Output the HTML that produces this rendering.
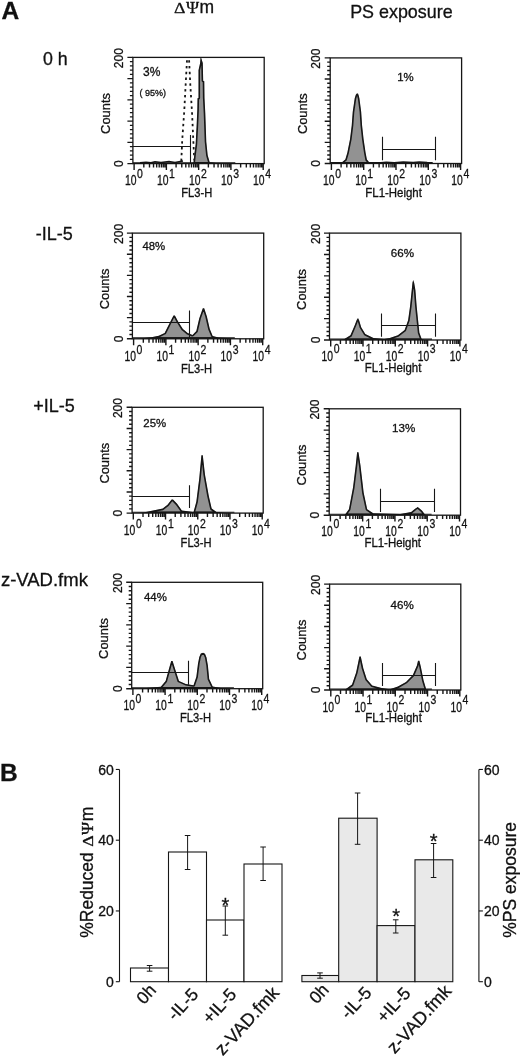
<!DOCTYPE html>
<html><head><meta charset="utf-8"><title>Figure</title>
<style>html,body{margin:0;padding:0;background:#fff}svg{display:block}text{font-family:"Liberation Sans",sans-serif;fill:#111}.ser{font-family:"Liberation Serif","DejaVu Serif",serif}text{stroke:#111;stroke-width:.3px}</style>
</head><body>
<svg width="520" height="1056" viewBox="0 0 520 1056">
<rect width="520" height="1056" fill="#fff"/>
<text x="1.5" y="19.4" font-size="24.5" font-weight="bold">A</text>
<text x="0.1" y="781.2" font-size="24.5" font-weight="bold">B</text>
<text class="ser" transform="translate(174.10 13.00) scale(1.16 1)" font-size="15.3">Δ</text><text class="ser" transform="translate(185.90 13.00) scale(1.03 1)" font-size="17.25">Ψ</text><text x="199.45" y="13.00" font-size="17.5">m</text>
<text x="350.2" y="18" font-size="17.9">PS exposure</text>
<text x="43" y="64.7" font-size="17.8">0 h</text>
<text x="35.8" y="240" font-size="18">-IL-5</text>
<text x="33.2" y="412" font-size="18">+IL-5</text>
<text x="0.9" y="586.2" font-size="18.5">z-VAD.fmk</text>
<g><polyline points="187.0,60.2 186.2,74.7 184.2,112.0 182.2,140.2 181.3,161.4" stroke="#161616" stroke-width="1.8" stroke-dasharray="2.4 3.4" fill="none"/>
<polyline points="189.1,60.2 190.3,84.8 192.0,112.0 193.3,140.2 194.3,160.4" stroke="#161616" stroke-width="1.8" stroke-dasharray="2.4 3.4" fill="none"/>
<clipPath id="c1"><polygon points="186.0,163.6 191.0,163.0 193.5,162.4 194.2,155.3 195.6,144.5 196.6,125.5 197.3,110.0 197.5,98.2 198.5,97.9 198.5,70.2 200.1,63.1 200.5,58.1 201.2,58.1 202.8,63.1 203.2,80.8 204.3,81.3 204.5,97.9 205.3,113.3 206.3,141.7 207.7,155.3 209.7,162.2 213.0,162.4 216.0,163.0 222.0,163.6"/></clipPath>
<polygon points="186.0,163.6 191.0,163.0 193.5,162.4 194.2,155.3 195.6,144.5 196.6,125.5 197.3,110.0 197.5,98.2 198.5,97.9 198.5,70.2 200.1,63.1 200.5,58.1 201.2,58.1 202.8,63.1 203.2,80.8 204.3,81.3 204.5,97.9 205.3,113.3 206.3,141.7 207.7,155.3 209.7,162.2 213.0,162.4 216.0,163.0 222.0,163.6" fill="#929292" stroke="#161616" stroke-width="3.2" stroke-linejoin="round" clip-path="url(#c1)"/>
<polyline points="140.0,162.8 146.0,162.2 151.0,162.8 155.0,161.8 161.0,162.6 169.0,161.4 175.0,162.4 183.0,160.9" stroke="#161616" stroke-width="1.5" fill="none"/>
<path d="M132.9 162.7H235.3" stroke="#161616" stroke-width="1.1" fill="none"/>
<rect x="132.9" y="57.4" width="131.3" height="106.2" fill="none" stroke="#161616" stroke-width="1.3"/>
<path d="M132.9 57.40h-5.5M132.9 61.65h-3.0M132.9 65.90h-3.0M132.9 70.14h-3.0M132.9 74.39h-3.0M132.9 78.64h-5.5M132.9 82.89h-3.0M132.9 87.14h-3.0M132.9 91.38h-3.0M132.9 95.63h-3.0M132.9 99.88h-5.5M132.9 104.13h-3.0M132.9 108.38h-3.0M132.9 112.62h-3.0M132.9 116.87h-3.0M132.9 121.12h-5.5M132.9 125.37h-3.0M132.9 129.62h-3.0M132.9 133.86h-3.0M132.9 138.11h-3.0M132.9 142.36h-5.5M132.9 146.61h-3.0M132.9 150.86h-3.0M132.9 155.10h-3.0M132.9 159.35h-3.0M132.9 163.60h-5.5M134.10 163.6v6.4M143.82 163.6v3.9M149.50 163.6v3.9M153.53 163.6v3.9M156.66 163.6v3.9M159.21 163.6v3.9M161.38 163.6v3.9M163.25 163.6v3.9M164.90 163.6v3.9M166.38 163.6v6.4M176.09 163.6v3.9M181.77 163.6v3.9M185.81 163.6v3.9M188.93 163.6v3.9M191.49 163.6v3.9M193.65 163.6v3.9M195.52 163.6v3.9M197.17 163.6v3.9M198.65 163.6v6.4M208.37 163.6v3.9M214.05 163.6v3.9M218.08 163.6v3.9M221.21 163.6v3.9M223.76 163.6v3.9M225.93 163.6v3.9M227.80 163.6v3.9M229.45 163.6v3.9M230.92 163.6v6.4M240.64 163.6v3.9M246.32 163.6v3.9M250.36 163.6v3.9M253.48 163.6v3.9M256.04 163.6v3.9M258.20 163.6v3.9M260.07 163.6v3.9M261.72 163.6v3.9M263.20 163.6v6.4" stroke="#161616" stroke-width="1.4" fill="none"/>
<path d="M132.9 146.5L190.5 146.5M190.5 135.0L190.5 163.6" stroke="#161616" stroke-width="1.1" fill="none"/>
<g class="sm">
<text transform="translate(123.1 58.2) rotate(-90)" font-size="12" text-anchor="middle">200</text>
<text transform="translate(123.1 163.6) rotate(-90)" font-size="12" text-anchor="middle">0</text>
<text transform="translate(109.5 113.5) rotate(-90)" font-size="12.9" text-anchor="middle">Counts</text>
<text transform="translate(130.7 185.4) scale(0.74 1)" font-size="14" text-anchor="middle">10</text>
<text transform="translate(137.1 177.9) scale(0.78 1)" font-size="13.4" text-anchor="start">0</text>
<text transform="translate(162.7 185.4) scale(0.74 1)" font-size="14" text-anchor="middle">10</text>
<text transform="translate(169.1 177.9) scale(0.78 1)" font-size="13.4" text-anchor="start">1</text>
<text transform="translate(194.8 185.4) scale(0.74 1)" font-size="14" text-anchor="middle">10</text>
<text transform="translate(201.1 177.9) scale(0.78 1)" font-size="13.4" text-anchor="start">2</text>
<text transform="translate(226.8 185.4) scale(0.74 1)" font-size="14" text-anchor="middle">10</text>
<text transform="translate(233.2 177.9) scale(0.78 1)" font-size="13.4" text-anchor="start">3</text>
<text transform="translate(258.8 185.4) scale(0.74 1)" font-size="14" text-anchor="middle">10</text>
<text transform="translate(265.2 177.9) scale(0.78 1)" font-size="13.4" text-anchor="start">4</text>
<text transform="translate(181.3 197.2) scale(0.930 1)" font-size="12">FL3-H</text>
<text x="143.0" y="75.6" font-size="12">3%</text>
<text x="139.5" y="96.2" font-size="9">( 95%)</text>
</g></g>
<g><clipPath id="c2"><polygon points="136.0,338.8 141.5,338.3 151.2,337.3 158.8,335.8 164.6,332.9 168.5,325.3 173.5,315.4 174.9,315.4 178.1,321.4 182.9,329.1 187.7,333.0 192.5,334.9 196.3,331.1 199.2,318.6 202.8,308.2 204.2,308.2 206.9,316.6 209.8,329.1 212.7,335.9 218.5,337.4 232.0,338.2 240.0,338.8"/></clipPath>
<polygon points="136.0,338.8 141.5,338.3 151.2,337.3 158.8,335.8 164.6,332.9 168.5,325.3 173.5,315.4 174.9,315.4 178.1,321.4 182.9,329.1 187.7,333.0 192.5,334.9 196.3,331.1 199.2,318.6 202.8,308.2 204.2,308.2 206.9,316.6 209.8,329.1 212.7,335.9 218.5,337.4 232.0,338.2 240.0,338.8" fill="#929292" stroke="#161616" stroke-width="3.2" stroke-linejoin="round" clip-path="url(#c2)"/>
<path d="M132.4 337.9H234.8" stroke="#161616" stroke-width="1.1" fill="none"/>
<rect x="132.4" y="233.1" width="131.3" height="105.7" fill="none" stroke="#161616" stroke-width="1.3"/>
<path d="M132.4 233.10h-5.5M132.4 237.33h-3.0M132.4 241.56h-3.0M132.4 245.78h-3.0M132.4 250.01h-3.0M132.4 254.24h-5.5M132.4 258.47h-3.0M132.4 262.70h-3.0M132.4 266.92h-3.0M132.4 271.15h-3.0M132.4 275.38h-5.5M132.4 279.61h-3.0M132.4 283.84h-3.0M132.4 288.06h-3.0M132.4 292.29h-3.0M132.4 296.52h-5.5M132.4 300.75h-3.0M132.4 304.98h-3.0M132.4 309.20h-3.0M132.4 313.43h-3.0M132.4 317.66h-5.5M132.4 321.89h-3.0M132.4 326.12h-3.0M132.4 330.34h-3.0M132.4 334.57h-3.0M132.4 338.80h-5.5M133.60 338.8v6.4M143.32 338.8v3.9M149.00 338.8v3.9M153.03 338.8v3.9M156.16 338.8v3.9M158.71 338.8v3.9M160.88 338.8v3.9M162.75 338.8v3.9M164.40 338.8v3.9M165.88 338.8v6.4M175.59 338.8v3.9M181.27 338.8v3.9M185.31 338.8v3.9M188.43 338.8v3.9M190.99 338.8v3.9M193.15 338.8v3.9M195.02 338.8v3.9M196.67 338.8v3.9M198.15 338.8v6.4M207.87 338.8v3.9M213.55 338.8v3.9M217.58 338.8v3.9M220.71 338.8v3.9M223.26 338.8v3.9M225.43 338.8v3.9M227.30 338.8v3.9M228.95 338.8v3.9M230.42 338.8v6.4M240.14 338.8v3.9M245.82 338.8v3.9M249.86 338.8v3.9M252.98 338.8v3.9M255.54 338.8v3.9M257.70 338.8v3.9M259.57 338.8v3.9M261.22 338.8v3.9M262.70 338.8v6.4" stroke="#161616" stroke-width="1.4" fill="none"/>
<path d="M132.4 322.5L189.6 322.5M189.5 310.6L189.5 338.8" stroke="#161616" stroke-width="1.1" fill="none"/>
<g class="sm">
<text transform="translate(122.6 233.9) rotate(-90)" font-size="12" text-anchor="middle">200</text>
<text transform="translate(122.6 338.8) rotate(-90)" font-size="12" text-anchor="middle">0</text>
<text transform="translate(109.0 288.9) rotate(-90)" font-size="12.9" text-anchor="middle">Counts</text>
<text transform="translate(130.2 361.2) scale(0.74 1)" font-size="14" text-anchor="middle">10</text>
<text transform="translate(136.6 353.7) scale(0.78 1)" font-size="13.4" text-anchor="start">0</text>
<text transform="translate(162.2 361.2) scale(0.74 1)" font-size="14" text-anchor="middle">10</text>
<text transform="translate(168.6 353.7) scale(0.78 1)" font-size="13.4" text-anchor="start">1</text>
<text transform="translate(194.2 361.2) scale(0.74 1)" font-size="14" text-anchor="middle">10</text>
<text transform="translate(200.6 353.7) scale(0.78 1)" font-size="13.4" text-anchor="start">2</text>
<text transform="translate(226.3 361.2) scale(0.74 1)" font-size="14" text-anchor="middle">10</text>
<text transform="translate(232.7 353.7) scale(0.78 1)" font-size="13.4" text-anchor="start">3</text>
<text transform="translate(258.3 361.2) scale(0.74 1)" font-size="14" text-anchor="middle">10</text>
<text transform="translate(264.7 353.7) scale(0.78 1)" font-size="13.4" text-anchor="start">4</text>
<text transform="translate(181.0 373.2) scale(0.930 1)" font-size="12">FL3-H</text>
<text x="142.4" y="250.2" font-size="11.4">48%</text>
</g></g>
<g><clipPath id="c3"><polygon points="136.0,513.1 143.5,512.4 153.0,510.5 162.7,508.6 167.5,504.7 171.6,499.6 173.0,499.6 177.1,503.8 181.9,510.5 193.5,512.1 196.3,501.8 199.2,478.7 201.4,455.2 202.8,455.2 205.0,474.8 208.8,496.1 211.7,508.6 216.5,512.0 226.0,513.1"/></clipPath>
<polygon points="136.0,513.1 143.5,512.4 153.0,510.5 162.7,508.6 167.5,504.7 171.6,499.6 173.0,499.6 177.1,503.8 181.9,510.5 193.5,512.1 196.3,501.8 199.2,478.7 201.4,455.2 202.8,455.2 205.0,474.8 208.8,496.1 211.7,508.6 216.5,512.0 226.0,513.1" fill="#929292" stroke="#161616" stroke-width="3.2" stroke-linejoin="round" clip-path="url(#c3)"/>
<path d="M132.1 512.2H234.4" stroke="#161616" stroke-width="1.1" fill="none"/>
<rect x="132.1" y="407.3" width="131.1" height="105.8" fill="none" stroke="#161616" stroke-width="1.3"/>
<path d="M132.1 407.30h-5.5M132.1 411.53h-3.0M132.1 415.76h-3.0M132.1 420.00h-3.0M132.1 424.23h-3.0M132.1 428.46h-5.5M132.1 432.69h-3.0M132.1 436.92h-3.0M132.1 441.16h-3.0M132.1 445.39h-3.0M132.1 449.62h-5.5M132.1 453.85h-3.0M132.1 458.08h-3.0M132.1 462.32h-3.0M132.1 466.55h-3.0M132.1 470.78h-5.5M132.1 475.01h-3.0M132.1 479.24h-3.0M132.1 483.48h-3.0M132.1 487.71h-3.0M132.1 491.94h-5.5M132.1 496.17h-3.0M132.1 500.40h-3.0M132.1 504.64h-3.0M132.1 508.87h-3.0M132.1 513.10h-5.5M133.30 513.1v6.4M143.00 513.1v3.9M148.68 513.1v3.9M152.70 513.1v3.9M155.82 513.1v3.9M158.38 513.1v3.9M160.53 513.1v3.9M162.40 513.1v3.9M164.05 513.1v3.9M165.52 513.1v6.4M175.23 513.1v3.9M180.90 513.1v3.9M184.93 513.1v3.9M188.05 513.1v3.9M190.60 513.1v3.9M192.76 513.1v3.9M194.63 513.1v3.9M196.28 513.1v3.9M197.75 513.1v6.4M207.45 513.1v3.9M213.13 513.1v3.9M217.15 513.1v3.9M220.27 513.1v3.9M222.83 513.1v3.9M224.98 513.1v3.9M226.85 513.1v3.9M228.50 513.1v3.9M229.97 513.1v6.4M239.68 513.1v3.9M245.35 513.1v3.9M249.38 513.1v3.9M252.50 513.1v3.9M255.05 513.1v3.9M257.21 513.1v3.9M259.08 513.1v3.9M260.73 513.1v3.9M262.20 513.1v6.4" stroke="#161616" stroke-width="1.4" fill="none"/>
<path d="M132.1 496.5L189.2 496.5M189.5 485.2L189.5 508.1" stroke="#161616" stroke-width="1.1" fill="none"/>
<g class="sm">
<text transform="translate(122.3 408.1) rotate(-90)" font-size="12" text-anchor="middle">200</text>
<text transform="translate(122.3 513.1) rotate(-90)" font-size="12" text-anchor="middle">0</text>
<text transform="translate(108.7 463.2) rotate(-90)" font-size="12.9" text-anchor="middle">Counts</text>
<text transform="translate(129.6 535.0) scale(0.74 1)" font-size="14" text-anchor="middle">10</text>
<text transform="translate(136.0 527.5) scale(0.78 1)" font-size="13.4" text-anchor="start">0</text>
<text transform="translate(161.6 535.0) scale(0.74 1)" font-size="14" text-anchor="middle">10</text>
<text transform="translate(168.0 527.5) scale(0.78 1)" font-size="13.4" text-anchor="start">1</text>
<text transform="translate(193.6 535.0) scale(0.74 1)" font-size="14" text-anchor="middle">10</text>
<text transform="translate(199.9 527.5) scale(0.78 1)" font-size="13.4" text-anchor="start">2</text>
<text transform="translate(225.5 535.0) scale(0.74 1)" font-size="14" text-anchor="middle">10</text>
<text transform="translate(231.9 527.5) scale(0.78 1)" font-size="13.4" text-anchor="start">3</text>
<text transform="translate(257.5 535.0) scale(0.74 1)" font-size="14" text-anchor="middle">10</text>
<text transform="translate(263.9 527.5) scale(0.78 1)" font-size="13.4" text-anchor="start">4</text>
<text transform="translate(180.6 547.2) scale(0.930 1)" font-size="12">FL3-H</text>
<text x="143.3" y="427.1" font-size="11.4">25%</text>
</g></g>
<g><clipPath id="c4"><polygon points="138.0,688.7 143.5,688.3 160.8,686.8 165.6,680.9 169.4,667.3 171.2,660.9 172.6,660.9 175.2,669.2 179.0,680.9 185.8,683.9 193.5,685.2 196.3,677.0 198.0,663.5 199.3,656.9 200.8,653.6 203.1,652.8 205.0,653.8 206.5,657.4 207.9,665.5 209.2,679.0 212.7,686.4 222.3,688.3 228.0,688.7"/></clipPath>
<polygon points="138.0,688.7 143.5,688.3 160.8,686.8 165.6,680.9 169.4,667.3 171.2,660.9 172.6,660.9 175.2,669.2 179.0,680.9 185.8,683.9 193.5,685.2 196.3,677.0 198.0,663.5 199.3,656.9 200.8,653.6 203.1,652.8 205.0,653.8 206.5,657.4 207.9,665.5 209.2,679.0 212.7,686.4 222.3,688.3 228.0,688.7" fill="#929292" stroke="#161616" stroke-width="3.2" stroke-linejoin="round" clip-path="url(#c4)"/>
<path d="M131.7 687.8H233.9" stroke="#161616" stroke-width="1.1" fill="none"/>
<rect x="131.7" y="582.3" width="131.0" height="106.4" fill="none" stroke="#161616" stroke-width="1.3"/>
<path d="M131.7 582.30h-5.5M131.7 586.56h-3.0M131.7 590.81h-3.0M131.7 595.07h-3.0M131.7 599.32h-3.0M131.7 603.58h-5.5M131.7 607.84h-3.0M131.7 612.09h-3.0M131.7 616.35h-3.0M131.7 620.60h-3.0M131.7 624.86h-5.5M131.7 629.12h-3.0M131.7 633.37h-3.0M131.7 637.63h-3.0M131.7 641.88h-3.0M131.7 646.14h-5.5M131.7 650.40h-3.0M131.7 654.65h-3.0M131.7 658.91h-3.0M131.7 663.16h-3.0M131.7 667.42h-5.5M131.7 671.68h-3.0M131.7 675.93h-3.0M131.7 680.19h-3.0M131.7 684.44h-3.0M131.7 688.70h-5.5M132.90 688.7v6.4M142.59 688.7v3.9M148.26 688.7v3.9M152.29 688.7v3.9M155.41 688.7v3.9M157.96 688.7v3.9M160.11 688.7v3.9M161.98 688.7v3.9M163.63 688.7v3.9M165.10 688.7v6.4M174.79 688.7v3.9M180.46 688.7v3.9M184.49 688.7v3.9M187.61 688.7v3.9M190.16 688.7v3.9M192.31 688.7v3.9M194.18 688.7v3.9M195.83 688.7v3.9M197.30 688.7v6.4M206.99 688.7v3.9M212.66 688.7v3.9M216.69 688.7v3.9M219.81 688.7v3.9M222.36 688.7v3.9M224.51 688.7v3.9M226.38 688.7v3.9M228.03 688.7v3.9M229.50 688.7v6.4M239.19 688.7v3.9M244.86 688.7v3.9M248.89 688.7v3.9M252.01 688.7v3.9M254.56 688.7v3.9M256.71 688.7v3.9M258.58 688.7v3.9M260.23 688.7v3.9M261.70 688.7v6.4" stroke="#161616" stroke-width="1.4" fill="none"/>
<path d="M131.7 672.5L188.7 672.5M188.5 660.7L188.5 684.7" stroke="#161616" stroke-width="1.1" fill="none"/>
<g class="sm">
<text transform="translate(121.9 583.1) rotate(-90)" font-size="12" text-anchor="middle">200</text>
<text transform="translate(121.9 688.7) rotate(-90)" font-size="12" text-anchor="middle">0</text>
<text transform="translate(108.3 638.5) rotate(-90)" font-size="12.9" text-anchor="middle">Counts</text>
<text transform="translate(129.2 710.0) scale(0.74 1)" font-size="14" text-anchor="middle">10</text>
<text transform="translate(135.6 702.5) scale(0.78 1)" font-size="13.4" text-anchor="start">0</text>
<text transform="translate(161.1 710.0) scale(0.74 1)" font-size="14" text-anchor="middle">10</text>
<text transform="translate(167.5 702.5) scale(0.78 1)" font-size="13.4" text-anchor="start">1</text>
<text transform="translate(193.1 710.0) scale(0.74 1)" font-size="14" text-anchor="middle">10</text>
<text transform="translate(199.5 702.5) scale(0.78 1)" font-size="13.4" text-anchor="start">2</text>
<text transform="translate(225.1 710.0) scale(0.74 1)" font-size="14" text-anchor="middle">10</text>
<text transform="translate(231.4 702.5) scale(0.78 1)" font-size="13.4" text-anchor="start">3</text>
<text transform="translate(257.0 710.0) scale(0.74 1)" font-size="14" text-anchor="middle">10</text>
<text transform="translate(263.4 702.5) scale(0.78 1)" font-size="13.4" text-anchor="start">4</text>
<text transform="translate(180.0 722.2) scale(0.930 1)" font-size="12">FL3-H</text>
<text x="144.0" y="601.1" font-size="11.4">44%</text>
</g></g>
<g><clipPath id="c5"><polygon points="334.1,163.5 337.4,163.0 341.3,162.7 345.3,159.6 347.3,152.8 350.0,139.2 351.7,125.6 352.7,111.9 354.7,98.3 355.8,94.8 356.8,93.4 358.0,93.4 358.7,95.5 359.4,98.3 361.2,111.9 362.1,125.6 363.6,139.2 365.6,152.8 366.9,159.6 369.6,162.7 373.2,163.1 378.2,163.5"/></clipPath>
<polygon points="334.1,163.5 337.4,163.0 341.3,162.7 345.3,159.6 347.3,152.8 350.0,139.2 351.7,125.6 352.7,111.9 354.7,98.3 355.8,94.8 356.8,93.4 358.0,93.4 358.7,95.5 359.4,98.3 361.2,111.9 362.1,125.6 363.6,139.2 365.6,152.8 366.9,159.6 369.6,162.7 373.2,163.1 378.2,163.5" fill="#929292" stroke="#161616" stroke-width="3.2" stroke-linejoin="round" clip-path="url(#c5)"/>
<polyline points="378.2,162.9 386.2,162.3 394.2,162.8 403.2,162.0 413.2,162.6 419.2,162.0 427.2,162.6" stroke="#161616" stroke-width="1.5" fill="none"/>
<path d="M330.2 162.6H432.7" stroke="#161616" stroke-width="1.1" fill="none"/>
<rect x="330.2" y="57.9" width="131.4" height="105.6" fill="none" stroke="#161616" stroke-width="1.3"/>
<path d="M330.2 57.90h-5.5M330.2 62.12h-3.0M330.2 66.35h-3.0M330.2 70.57h-3.0M330.2 74.80h-3.0M330.2 79.02h-5.5M330.2 83.24h-3.0M330.2 87.47h-3.0M330.2 91.69h-3.0M330.2 95.92h-3.0M330.2 100.14h-5.5M330.2 104.36h-3.0M330.2 108.59h-3.0M330.2 112.81h-3.0M330.2 117.04h-3.0M330.2 121.26h-5.5M330.2 125.48h-3.0M330.2 129.71h-3.0M330.2 133.93h-3.0M330.2 138.16h-3.0M330.2 142.38h-5.5M330.2 146.60h-3.0M330.2 150.83h-3.0M330.2 155.05h-3.0M330.2 159.28h-3.0M330.2 163.50h-5.5M331.40 163.5v6.4M341.12 163.5v3.9M346.81 163.5v3.9M350.85 163.5v3.9M353.98 163.5v3.9M356.53 163.5v3.9M358.70 163.5v3.9M360.57 163.5v3.9M362.22 163.5v3.9M363.70 163.5v6.4M373.42 163.5v3.9M379.11 163.5v3.9M383.15 163.5v3.9M386.28 163.5v3.9M388.83 163.5v3.9M391.00 163.5v3.9M392.87 163.5v3.9M394.52 163.5v3.9M396.00 163.5v6.4M405.72 163.5v3.9M411.41 163.5v3.9M415.45 163.5v3.9M418.58 163.5v3.9M421.13 163.5v3.9M423.30 163.5v3.9M425.17 163.5v3.9M426.82 163.5v3.9M428.30 163.5v6.4M438.02 163.5v3.9M443.71 163.5v3.9M447.75 163.5v3.9M450.88 163.5v3.9M453.43 163.5v3.9M455.60 163.5v3.9M457.47 163.5v3.9M459.12 163.5v3.9M460.60 163.5v6.4" stroke="#161616" stroke-width="1.4" fill="none"/>
<path d="M382.2 149.5L435.7 149.5M382.5 136.8L382.5 160.3M435.5 136.8L435.5 160.3" stroke="#161616" stroke-width="1.1" fill="none"/>
<g class="sm">
<text transform="translate(320.4 58.7) rotate(-90)" font-size="12" text-anchor="middle">200</text>
<text transform="translate(320.4 163.5) rotate(-90)" font-size="12" text-anchor="middle">0</text>
<text transform="translate(306.8 113.7) rotate(-90)" font-size="12.9" text-anchor="middle">Counts</text>
<text transform="translate(328.8 185.4) scale(0.74 1)" font-size="14" text-anchor="middle">10</text>
<text transform="translate(335.2 177.9) scale(0.78 1)" font-size="13.4" text-anchor="start">0</text>
<text transform="translate(360.9 185.4) scale(0.74 1)" font-size="14" text-anchor="middle">10</text>
<text transform="translate(367.2 177.9) scale(0.78 1)" font-size="13.4" text-anchor="start">1</text>
<text transform="translate(392.9 185.4) scale(0.74 1)" font-size="14" text-anchor="middle">10</text>
<text transform="translate(399.3 177.9) scale(0.78 1)" font-size="13.4" text-anchor="start">2</text>
<text transform="translate(425.0 185.4) scale(0.74 1)" font-size="14" text-anchor="middle">10</text>
<text transform="translate(431.4 177.9) scale(0.78 1)" font-size="13.4" text-anchor="start">3</text>
<text transform="translate(457.0 185.4) scale(0.74 1)" font-size="14" text-anchor="middle">10</text>
<text transform="translate(463.4 177.9) scale(0.78 1)" font-size="13.4" text-anchor="start">4</text>
<text transform="translate(365.3 197.2) scale(0.955 1)" font-size="12">FL1-Height</text>
<text x="397.2" y="81.2" font-size="11.4">1%</text>
</g></g>
<g><clipPath id="c6"><polygon points="339.8,340.0 343.6,339.5 350.4,335.3 354.5,325.7 356.7,320.0 358.0,318.1 359.2,320.6 361.2,327.2 365.3,334.0 373.5,338.1 384.2,338.9 389.7,338.1 397.8,335.3 404.6,329.9 408.1,320.2 410.0,306.6 411.4,292.9 412.5,282.4 413.2,280.0 414.2,282.9 415.4,290.1 416.7,306.6 418.1,320.2 419.4,332.7 421.7,338.9 424.3,340.0"/></clipPath>
<polygon points="339.8,340.0 343.6,339.5 350.4,335.3 354.5,325.7 356.7,320.0 358.0,318.1 359.2,320.6 361.2,327.2 365.3,334.0 373.5,338.1 384.2,338.9 389.7,338.1 397.8,335.3 404.6,329.9 408.1,320.2 410.0,306.6 411.4,292.9 412.5,282.4 413.2,280.0 414.2,282.9 415.4,290.1 416.7,306.6 418.1,320.2 419.4,332.7 421.7,338.9 424.3,340.0" fill="#929292" stroke="#161616" stroke-width="3.2" stroke-linejoin="round" clip-path="url(#c6)"/>
<path d="M329.5 339.1H432.0" stroke="#161616" stroke-width="1.1" fill="none"/>
<rect x="329.5" y="233.1" width="131.4" height="106.9" fill="none" stroke="#161616" stroke-width="1.3"/>
<path d="M329.5 233.10h-5.5M329.5 237.38h-3.0M329.5 241.65h-3.0M329.5 245.93h-3.0M329.5 250.20h-3.0M329.5 254.48h-5.5M329.5 258.76h-3.0M329.5 263.03h-3.0M329.5 267.31h-3.0M329.5 271.58h-3.0M329.5 275.86h-5.5M329.5 280.14h-3.0M329.5 284.41h-3.0M329.5 288.69h-3.0M329.5 292.96h-3.0M329.5 297.24h-5.5M329.5 301.52h-3.0M329.5 305.79h-3.0M329.5 310.07h-3.0M329.5 314.34h-3.0M329.5 318.62h-5.5M329.5 322.90h-3.0M329.5 327.17h-3.0M329.5 331.45h-3.0M329.5 335.72h-3.0M329.5 340.00h-5.5M330.70 340.0v6.4M340.42 340.0v3.9M346.11 340.0v3.9M350.15 340.0v3.9M353.28 340.0v3.9M355.83 340.0v3.9M358.00 340.0v3.9M359.87 340.0v3.9M361.52 340.0v3.9M363.00 340.0v6.4M372.72 340.0v3.9M378.41 340.0v3.9M382.45 340.0v3.9M385.58 340.0v3.9M388.13 340.0v3.9M390.30 340.0v3.9M392.17 340.0v3.9M393.82 340.0v3.9M395.30 340.0v6.4M405.02 340.0v3.9M410.71 340.0v3.9M414.75 340.0v3.9M417.88 340.0v3.9M420.43 340.0v3.9M422.60 340.0v3.9M424.47 340.0v3.9M426.12 340.0v3.9M427.60 340.0v6.4M437.32 340.0v3.9M443.01 340.0v3.9M447.05 340.0v3.9M450.18 340.0v3.9M452.73 340.0v3.9M454.90 340.0v3.9M456.77 340.0v3.9M458.42 340.0v3.9M459.90 340.0v6.4" stroke="#161616" stroke-width="1.4" fill="none"/>
<path d="M381.5 325.5L435.2 325.5M381.5 313.4L381.5 336.7M435.5 313.4L435.5 336.7" stroke="#161616" stroke-width="1.1" fill="none"/>
<g class="sm">
<text transform="translate(319.7 233.9) rotate(-90)" font-size="12" text-anchor="middle">200</text>
<text transform="translate(319.7 340.0) rotate(-90)" font-size="12" text-anchor="middle">0</text>
<text transform="translate(306.1 289.5) rotate(-90)" font-size="12.9" text-anchor="middle">Counts</text>
<text transform="translate(327.3 360.9) scale(0.74 1)" font-size="14" text-anchor="middle">10</text>
<text transform="translate(333.7 353.4) scale(0.78 1)" font-size="13.4" text-anchor="start">0</text>
<text transform="translate(359.4 360.9) scale(0.74 1)" font-size="14" text-anchor="middle">10</text>
<text transform="translate(365.8 353.4) scale(0.78 1)" font-size="13.4" text-anchor="start">1</text>
<text transform="translate(391.4 360.9) scale(0.74 1)" font-size="14" text-anchor="middle">10</text>
<text transform="translate(397.8 353.4) scale(0.78 1)" font-size="13.4" text-anchor="start">2</text>
<text transform="translate(423.4 360.9) scale(0.74 1)" font-size="14" text-anchor="middle">10</text>
<text transform="translate(429.8 353.4) scale(0.78 1)" font-size="13.4" text-anchor="start">3</text>
<text transform="translate(455.5 360.9) scale(0.74 1)" font-size="14" text-anchor="middle">10</text>
<text transform="translate(461.9 353.4) scale(0.78 1)" font-size="13.4" text-anchor="start">4</text>
<text transform="translate(364.8 372.2) scale(0.955 1)" font-size="12">FL1-Height</text>
<text x="390.8" y="256.8" font-size="11.6">66%</text>
</g></g>
<g><clipPath id="c7"><polygon points="340.6,515.2 344.9,514.7 348.9,509.2 353.0,487.4 355.7,465.5 357.1,452.2 358.5,452.2 360.5,465.5 363.7,492.8 367.2,509.2 373.3,513.3 400.3,514.1 411.1,512.0 415.1,508.7 417.8,507.0 421.9,510.5 425.2,514.7 428.0,515.2"/></clipPath>
<polygon points="340.6,515.2 344.9,514.7 348.9,509.2 353.0,487.4 355.7,465.5 357.1,452.2 358.5,452.2 360.5,465.5 363.7,492.8 367.2,509.2 373.3,513.3 400.3,514.1 411.1,512.0 415.1,508.7 417.8,507.0 421.9,510.5 425.2,514.7 428.0,515.2" fill="#929292" stroke="#161616" stroke-width="3.2" stroke-linejoin="round" clip-path="url(#c7)"/>
<path d="M329.2 514.3H431.6" stroke="#161616" stroke-width="1.1" fill="none"/>
<rect x="329.2" y="408.8" width="131.3" height="106.4" fill="none" stroke="#161616" stroke-width="1.3"/>
<path d="M329.2 408.80h-5.5M329.2 413.06h-3.0M329.2 417.31h-3.0M329.2 421.57h-3.0M329.2 425.82h-3.0M329.2 430.08h-5.5M329.2 434.34h-3.0M329.2 438.59h-3.0M329.2 442.85h-3.0M329.2 447.10h-3.0M329.2 451.36h-5.5M329.2 455.62h-3.0M329.2 459.87h-3.0M329.2 464.13h-3.0M329.2 468.38h-3.0M329.2 472.64h-5.5M329.2 476.90h-3.0M329.2 481.15h-3.0M329.2 485.41h-3.0M329.2 489.66h-3.0M329.2 493.92h-5.5M329.2 498.18h-3.0M329.2 502.43h-3.0M329.2 506.69h-3.0M329.2 510.94h-3.0M329.2 515.20h-5.5M330.40 515.2v6.4M340.12 515.2v3.9M345.80 515.2v3.9M349.83 515.2v3.9M352.96 515.2v3.9M355.51 515.2v3.9M357.68 515.2v3.9M359.55 515.2v3.9M361.20 515.2v3.9M362.67 515.2v6.4M372.39 515.2v3.9M378.07 515.2v3.9M382.11 515.2v3.9M385.23 515.2v3.9M387.79 515.2v3.9M389.95 515.2v3.9M391.82 515.2v3.9M393.47 515.2v3.9M394.95 515.2v6.4M404.67 515.2v3.9M410.35 515.2v3.9M414.38 515.2v3.9M417.51 515.2v3.9M420.06 515.2v3.9M422.23 515.2v3.9M424.10 515.2v3.9M425.75 515.2v3.9M427.23 515.2v6.4M436.94 515.2v3.9M442.62 515.2v3.9M446.66 515.2v3.9M449.78 515.2v3.9M452.34 515.2v3.9M454.50 515.2v3.9M456.37 515.2v3.9M458.02 515.2v3.9M459.50 515.2v6.4" stroke="#161616" stroke-width="1.4" fill="none"/>
<path d="M380.8 501.5L434.6 501.5M380.5 488.8L380.5 512.0M434.5 488.8L434.5 512.0" stroke="#161616" stroke-width="1.1" fill="none"/>
<g class="sm">
<text transform="translate(319.4 409.6) rotate(-90)" font-size="12" text-anchor="middle">200</text>
<text transform="translate(319.4 515.2) rotate(-90)" font-size="12" text-anchor="middle">0</text>
<text transform="translate(305.8 465.0) rotate(-90)" font-size="12.9" text-anchor="middle">Counts</text>
<text transform="translate(327.0 535.9) scale(0.74 1)" font-size="14" text-anchor="middle">10</text>
<text transform="translate(333.4 528.4) scale(0.78 1)" font-size="13.4" text-anchor="start">0</text>
<text transform="translate(359.0 535.9) scale(0.74 1)" font-size="14" text-anchor="middle">10</text>
<text transform="translate(365.4 528.4) scale(0.78 1)" font-size="13.4" text-anchor="start">1</text>
<text transform="translate(391.1 535.9) scale(0.74 1)" font-size="14" text-anchor="middle">10</text>
<text transform="translate(397.4 528.4) scale(0.78 1)" font-size="13.4" text-anchor="start">2</text>
<text transform="translate(423.1 535.9) scale(0.74 1)" font-size="14" text-anchor="middle">10</text>
<text transform="translate(429.5 528.4) scale(0.78 1)" font-size="13.4" text-anchor="start">3</text>
<text transform="translate(455.1 535.9) scale(0.74 1)" font-size="14" text-anchor="middle">10</text>
<text transform="translate(461.5 528.4) scale(0.78 1)" font-size="13.4" text-anchor="start">4</text>
<text transform="translate(364.4 547.2) scale(0.955 1)" font-size="12">FL1-Height</text>
<text x="392.0" y="432.0" font-size="11.6">13%</text>
</g></g>
<g><clipPath id="c8"><polygon points="341.0,690.0 345.2,689.5 352.0,684.6 356.1,672.4 359.4,656.6 360.8,656.6 363.3,668.3 366.8,679.2 372.2,685.5 381.7,688.1 389.8,689.2 397.9,686.5 406.0,681.9 412.8,675.1 416.9,665.6 418.0,660.7 419.4,660.7 420.9,666.9 423.6,680.5 426.3,689.5 429.3,690.0"/></clipPath>
<polygon points="341.0,690.0 345.2,689.5 352.0,684.6 356.1,672.4 359.4,656.6 360.8,656.6 363.3,668.3 366.8,679.2 372.2,685.5 381.7,688.1 389.8,689.2 397.9,686.5 406.0,681.9 412.8,675.1 416.9,665.6 418.0,660.7 419.4,660.7 420.9,666.9 423.6,680.5 426.3,689.5 429.3,690.0" fill="#929292" stroke="#161616" stroke-width="3.2" stroke-linejoin="round" clip-path="url(#c8)"/>
<path d="M329.6 689.1H431.9" stroke="#161616" stroke-width="1.1" fill="none"/>
<rect x="329.6" y="584.1" width="131.2" height="105.9" fill="none" stroke="#161616" stroke-width="1.3"/>
<path d="M329.6 584.10h-5.5M329.6 588.34h-3.0M329.6 592.57h-3.0M329.6 596.81h-3.0M329.6 601.04h-3.0M329.6 605.28h-5.5M329.6 609.52h-3.0M329.6 613.75h-3.0M329.6 617.99h-3.0M329.6 622.22h-3.0M329.6 626.46h-5.5M329.6 630.70h-3.0M329.6 634.93h-3.0M329.6 639.17h-3.0M329.6 643.40h-3.0M329.6 647.64h-5.5M329.6 651.88h-3.0M329.6 656.11h-3.0M329.6 660.35h-3.0M329.6 664.58h-3.0M329.6 668.82h-5.5M329.6 673.06h-3.0M329.6 677.29h-3.0M329.6 681.53h-3.0M329.6 685.76h-3.0M329.6 690.00h-5.5M330.80 690.0v6.4M340.51 690.0v3.9M346.19 690.0v3.9M350.22 690.0v3.9M353.34 690.0v3.9M355.90 690.0v3.9M358.05 690.0v3.9M359.92 690.0v3.9M361.57 690.0v3.9M363.05 690.0v6.4M372.76 690.0v3.9M378.44 690.0v3.9M382.47 690.0v3.9M385.59 690.0v3.9M388.15 690.0v3.9M390.30 690.0v3.9M392.17 690.0v3.9M393.82 690.0v3.9M395.30 690.0v6.4M405.01 690.0v3.9M410.69 690.0v3.9M414.72 690.0v3.9M417.84 690.0v3.9M420.40 690.0v3.9M422.55 690.0v3.9M424.42 690.0v3.9M426.07 690.0v3.9M427.55 690.0v6.4M437.26 690.0v3.9M442.94 690.0v3.9M446.97 690.0v3.9M450.09 690.0v3.9M452.65 690.0v3.9M454.80 690.0v3.9M456.67 690.0v3.9M458.32 690.0v3.9M459.80 690.0v6.4" stroke="#161616" stroke-width="1.4" fill="none"/>
<path d="M382.3 675.5L435.7 675.5M382.5 662.9L382.5 686.0M435.5 662.9L435.5 686.0" stroke="#161616" stroke-width="1.1" fill="none"/>
<g class="sm">
<text transform="translate(319.8 584.9) rotate(-90)" font-size="12" text-anchor="middle">200</text>
<text transform="translate(319.8 690.0) rotate(-90)" font-size="12" text-anchor="middle">0</text>
<text transform="translate(306.2 640.0) rotate(-90)" font-size="12.9" text-anchor="middle">Counts</text>
<text transform="translate(328.2 711.5) scale(0.74 1)" font-size="14" text-anchor="middle">10</text>
<text transform="translate(334.6 704.0) scale(0.78 1)" font-size="13.4" text-anchor="start">0</text>
<text transform="translate(360.2 711.5) scale(0.74 1)" font-size="14" text-anchor="middle">10</text>
<text transform="translate(366.6 704.0) scale(0.78 1)" font-size="13.4" text-anchor="start">1</text>
<text transform="translate(392.2 711.5) scale(0.74 1)" font-size="14" text-anchor="middle">10</text>
<text transform="translate(398.6 704.0) scale(0.78 1)" font-size="13.4" text-anchor="start">2</text>
<text transform="translate(424.2 711.5) scale(0.74 1)" font-size="14" text-anchor="middle">10</text>
<text transform="translate(430.6 704.0) scale(0.78 1)" font-size="13.4" text-anchor="start">3</text>
<text transform="translate(456.2 711.5) scale(0.74 1)" font-size="14" text-anchor="middle">10</text>
<text transform="translate(462.6 704.0) scale(0.78 1)" font-size="13.4" text-anchor="start">4</text>
<text transform="translate(365.3 721.9) scale(0.955 1)" font-size="12">FL1-Height</text>
<text x="390.6" y="608.8" font-size="11.6">46%</text>
</g></g>
<path d="M119.5 769.5V981.7" stroke="#161616" stroke-width="1.1" fill="none"/>
<path d="M115.8 981.70H119.5" stroke="#161616" stroke-width="1.1"/>
<text x="113.9" y="986.7" font-size="14" text-anchor="end">0</text>
<path d="M115.8 910.95H119.5" stroke="#161616" stroke-width="1.1"/>
<text x="113.9" y="916.0" font-size="14" text-anchor="end">20</text>
<path d="M115.8 840.20H119.5" stroke="#161616" stroke-width="1.1"/>
<text x="113.9" y="845.2" font-size="14" text-anchor="end">40</text>
<path d="M115.8 769.45H119.5" stroke="#161616" stroke-width="1.1"/>
<text x="113.9" y="774.5" font-size="14" text-anchor="end">60</text>
<rect x="130.5" y="968.0" width="38.0" height="13.7" fill="#fff" stroke="#161616" stroke-width="1.1"/>
<rect x="168.5" y="852.0" width="38.0" height="129.7" fill="#fff" stroke="#161616" stroke-width="1.1"/>
<rect x="206.5" y="920.0" width="37.5" height="61.7" fill="#fff" stroke="#161616" stroke-width="1.1"/>
<rect x="244.0" y="864.0" width="38.0" height="117.7" fill="#fff" stroke="#161616" stroke-width="1.1"/>
<path d="M149.6 965.5V971.2M146.8 965.5h5.6M146.8 971.2h5.6" stroke="#161616" stroke-width="1" fill="none"/>
<path d="M187.6 835.5V869.5M184.8 835.5h5.6M184.8 869.5h5.6" stroke="#161616" stroke-width="1" fill="none"/>
<path d="M225.3 906.0V935.2M222.5 906.0h5.6M222.5 935.2h5.6" stroke="#161616" stroke-width="1" fill="none"/>
<path d="M263.1 847.0V880.5M260.3 847.0h5.6M260.3 880.5h5.6" stroke="#161616" stroke-width="1" fill="none"/>
<path d="M478.9 769.5V981.7" stroke="#161616" stroke-width="1.1" fill="none"/>
<path d="M478.9 981.70h4" stroke="#161616" stroke-width="1.1"/>
<text x="484.0" y="986.7" font-size="14" text-anchor="start">0</text>
<path d="M478.9 910.95h4" stroke="#161616" stroke-width="1.1"/>
<text x="484.0" y="916.0" font-size="14" text-anchor="start">20</text>
<path d="M478.9 840.20h4" stroke="#161616" stroke-width="1.1"/>
<text x="484.0" y="845.2" font-size="14" text-anchor="start">40</text>
<path d="M478.9 769.45h4" stroke="#161616" stroke-width="1.1"/>
<text x="484.0" y="774.5" font-size="14" text-anchor="start">60</text>
<rect x="301.9" y="975.5" width="36.8" height="6.2" fill="#e9e9e9" stroke="#161616" stroke-width="1.1"/>
<rect x="338.7" y="818.2" width="38.4" height="163.5" fill="#e9e9e9" stroke="#161616" stroke-width="1.1"/>
<rect x="377.1" y="925.6" width="37.9" height="56.1" fill="#e9e9e9" stroke="#161616" stroke-width="1.1"/>
<rect x="415.0" y="859.8" width="37.8" height="121.9" fill="#e9e9e9" stroke="#161616" stroke-width="1.1"/>
<path d="M320.0 972.9V978.2M317.2 972.9h5.6M317.2 978.2h5.6" stroke="#161616" stroke-width="1" fill="none"/>
<path d="M357.6 793.0V844.3M354.8 793.0h5.6M354.8 844.3h5.6" stroke="#161616" stroke-width="1" fill="none"/>
<path d="M395.8 919.8V933.0M392.9 919.8h5.6M392.9 933.0h5.6" stroke="#161616" stroke-width="1" fill="none"/>
<path d="M433.6 843.5V877.5M430.8 843.5h5.6M430.8 877.5h5.6" stroke="#161616" stroke-width="1" fill="none"/>
<text x="225.4" y="911.5" font-size="20" text-anchor="middle">*</text>
<text x="396.1" y="923.4" font-size="20" text-anchor="middle">*</text>
<text x="433.7" y="848.2" font-size="20" text-anchor="middle">*</text>
<g transform="translate(92.6 937.8) rotate(-90)"><text x="0" y="0" font-size="17.5">%Reduced</text><text class="ser" transform="translate(91.10 0.00) scale(1.16 1)" font-size="15.3">Δ</text><text class="ser" transform="translate(102.90 0.00) scale(1.03 1)" font-size="17.25">Ψ</text><text x="116.45" y="0.00" font-size="17.5">m</text></g>
<text transform="translate(515.8 937.8) rotate(-90)" font-size="17.5">%PS exposure</text>
<text transform="translate(157.2 990.8) rotate(-47.5)" font-size="17.5" text-anchor="end">0h</text>
<text transform="translate(199.3 995.0) rotate(-47.5)" font-size="17.5" text-anchor="end">-IL-5</text>
<text transform="translate(237.3 995.0) rotate(-47.5)" font-size="17.5" text-anchor="end">+IL-5</text>
<text transform="translate(280.2 993.5) rotate(-47.5)" font-size="18.1" text-anchor="end">z-VAD.fmk</text>
<text transform="translate(329.9 990.5) rotate(-47.5)" font-size="17.5" text-anchor="end">0h</text>
<text transform="translate(372.5 993.5) rotate(-47.5)" font-size="17.5" text-anchor="end">-IL-5</text>
<text transform="translate(411.5 994.0) rotate(-47.5)" font-size="17.5" text-anchor="end">+IL-5</text>
<text transform="translate(452.3 991.8) rotate(-47.5)" font-size="18.1" text-anchor="end">z-VAD.fmk</text>
</svg></body></html>
